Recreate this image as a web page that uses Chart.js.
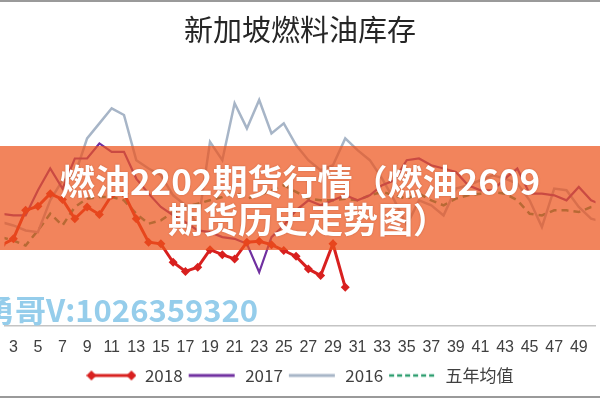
<!DOCTYPE html>
<html>
<head>
<meta charset="utf-8">
<script src="https://cdn.jsdelivr.net/npm/chart.js@4.4.1/dist/chart.umd.min.js"></script>
<style>
  html, body { margin: 0; padding: 0; background: #fff; }
  #wrap { position: relative; width: 600px; height: 400px; overflow: hidden; }
  #chart { position: absolute; left: 0; top: 0; }
  .rule { position: absolute; left: 0; width: 600px; background: #9a9a9a; }
  #banner {
    position: absolute; left: 0; top: 146px; width: 600px; height: 104px;
    background: rgba(237, 84, 29, 0.72);
    color: #fff; text-align: center;
    font-family: "Noto Sans CJK SC", sans-serif; font-weight: bold;
    font-size: 35px; line-height: 38px; padding-top: 15px; box-sizing: border-box;
    text-shadow: 0 0 2px rgba(120, 40, 10, 0.35);
  }
  #banner span { position: relative; left: 8px; }
  #mark {
    position: absolute; left: -16px; top: 286px; white-space: nowrap;
    font-family: "Noto Sans CJK SC", sans-serif; font-weight: bold;
    font-size: 31px; color: #95cdeb;
  }
</style>
</head>
<body>
<div id="wrap">
  <canvas id="chart" width="600" height="400"></canvas>
  <div class="rule" style="top:0;height:2px"></div>
  <div class="rule" style="top:396px;height:2px"></div>
  <div id="banner">燃油2202期货行情（燃油2609<br><span>期货历史走势图）</span></div>
  <div id="mark">勇哥V:1026359320</div>
</div>
<script>
// semaines (axe x) et étiquettes visibles
const weeks = [1, 2, 3, 4, 5, 6, 7, 8, 9, 10, 11, 12, 13, 14, 15, 16, 17, 18, 19, 20, 21, 22, 23, 24, 25, 26,
  27, 28, 29, 30, 31, 32, 33, 34, 35, 36, 37, 38, 39, 40, 41, 42, 43, 44, 45, 46, 47, 48, 49, 50, 51, 52];
const tickWeeks = [3, 5, 7, 9, 11, 13, 15, 17, 19, 21, 23, 25, 27, 29, 31, 33, 35, 37, 39, 41, 43, 45, 47, 49];

// stocks
const stock2018 = [1650, 1680, 1720, 1890, 1915, 1990, 1955, 1840, 1910, 1865, 1980, 1990, 1840, 1700, 1690,
  1580, 1525, 1550, 1655, 1625, 1600, 1700, 1705, 1685, 1650, 1615, 1540, 1500, 1690, 1430];
const stock2017 = [1890, 1870, 1860, 1860, 2010, 2140, 2020, 2200, 2200, 2290, 2240, 2240, 2080, 1990, 1910,
  1860, 1820, 1770, 1760, 1730, 1720, 1690, 1520, 1730, 1800, 1890, 1950, 1920, 1950, 1980, 1950, 1980, 2040,
  2070, 2190, 2200, 2160, 2140, 2120, 2040, 2010, 2010, 2080, 2140, 1990, 1990, 1980, 1950, 2030, 1950, 1920, 1950];
const stock2016 = [1860, 1820, 1800, 1770, 1760, 1950, 2070, 2100, 2320, 2410, 2500, 2460, 2190, 2140, 2100,
  1980, 1920, 1800, 2300, 2190, 2530, 2380, 2550, 2350, 2410, 2280, 2190, 2130, 2160, 2320, 2250, 2190, 2080,
  1950, 1800, 1950, 1920, 1860, 2020, 2040, 2070, 2100, 2080, 2050, 1950, 1790, 2020, 2010, 1910, 1840, 1820, 1860];
const stockAvg5 = [1760, 1730, 1710, 1680, 1770, 1870, 1800, 1910, 1960, 1970, 1970, 1950, 1870, 1810, 1830,
  1880, 1910, 1930, 1950, 1970, 2000, 1960, 1980, 2010, 2040, 2000, 1960, 1950, 1950, 1960, 1950, 1980, 2000,
  1980, 1960, 1990, 1950, 1920, 1960, 1980, 1990, 2000, 1990, 1950, 1870, 1860, 1890, 1890, 1880, 1910, 1920, 1920];

const seriesNames = ['2018', '2017', '2016', '五年均值'];

const RED = '#d8201f', PURPLE = '#7030a0', GREY = '#a7b5c7', GREEN = '#2f9e70';

// petites icônes de légende (trait + losanges)
function legendIcon(color, width, dash, diamonds) {
  const c = document.createElement('canvas');
  c.width = 50; c.height = 12;
  const ctx = c.getContext('2d');
  ctx.strokeStyle = color;
  ctx.lineWidth = width;
  ctx.setLineDash(dash);
  ctx.beginPath();
  ctx.moveTo(diamonds ? 5 : 2, 6);
  ctx.lineTo(diamonds ? 45 : 48, 6);
  ctx.stroke();
  if (diamonds) {
    ctx.fillStyle = color;
    [5, 45].forEach(function (x) {
      ctx.beginPath();
      ctx.moveTo(x, 1); ctx.lineTo(x + 5, 6); ctx.lineTo(x, 11); ctx.lineTo(x - 5, 6);
      ctx.closePath();
      ctx.fill();
    });
  }
  return c;
}

function toPoints(values) {
  return values.map(function (v, i) { return { x: weeks[i], y: v }; });
}

const data = {
  datasets: [
    {
      label: seriesNames[0], data: toPoints(stock2018),
      borderColor: RED, backgroundColor: RED, borderWidth: 3,
      pointStyle: 'rectRot', pointRadius: 4.5, pointBackgroundColor: RED, pointBorderWidth: 0,
      legendIcon: legendIcon(RED, 3, [], true), order: 0
    },
    {
      label: seriesNames[1], data: toPoints(stock2017),
      borderColor: PURPLE, backgroundColor: PURPLE, borderWidth: 2.2, pointRadius: 0,
      legendIcon: legendIcon(PURPLE, 3, [], false), order: 1
    },
    {
      label: seriesNames[2], data: toPoints(stock2016),
      borderColor: GREY, backgroundColor: GREY, borderWidth: 2.5, pointRadius: 0,
      legendIcon: legendIcon(GREY, 3, [], false), order: 2
    },
    {
      label: seriesNames[3], data: toPoints(stockAvg5),
      borderColor: GREEN, backgroundColor: GREEN, borderWidth: 2.5, borderDash: [7, 5], pointRadius: 0,
      legendIcon: legendIcon(GREEN, 2.5, [5, 3], false), order: 3
    }
  ]
};

const config = {
  type: 'line',
  data: data,
  options: {
    responsive: false,
    animation: false,
    layout: { padding: { left: 0, right: 0, top: 0, bottom: 6 } },
    plugins: {
      title: {
        display: true,
        text: '新加坡燃料油库存',
        color: '#262626',
        font: { family: '"Noto Sans CJK SC", sans-serif', size: 29, weight: 'normal' },
        padding: { top: 13, bottom: 12 }
      },
      legend: {
        position: 'bottom',
        labels: {
          usePointStyle: true,
          pointStyleWidth: 50,
          padding: 4,
          color: '#404040',
          font: { family: '"Liberation Sans Narrow", "Noto Sans CJK SC", sans-serif', size: 17 },
          generateLabels: function (chart) {
            return chart.data.datasets.map(function (ds, i) {
              return {
                text: ds.label, pointStyle: ds.legendIcon, fillStyle: ds.borderColor,
                strokeStyle: ds.borderColor, lineWidth: 0, hidden: false, datasetIndex: i,
                fontColor: '#404040'
              };
            });
          }
        }
      },
      tooltip: { enabled: false }
    },
    elements: { line: { tension: 0 } },
    scales: {
      x: {
        type: 'linear',
        min: 2.28,
        max: 50.36,
        grid: { display: false, drawTicks: false },
        border: { display: true, color: '#c4c4c4', width: 1.5 },
        ticks: {
          autoSkip: false, maxRotation: 0, padding: 12,
          color: '#404040',
          font: { family: '"Liberation Sans Narrow", sans-serif', size: 16 }
        },
        afterBuildTicks: function (scale) {
          scale.ticks = tickWeeks.map(function (w) { return { value: w }; });
        },
        afterFit: function (scale) {
          scale.paddingLeft = 0;
          scale.paddingRight = 0;
          scale.height -= 6;
        }
      },
      y: {
        display: false,
        min: 1200,
        max: 2790
      }
    }
  }
};

const stockChart = new Chart(document.getElementById('chart'), config);
</script>
</body>
</html>
